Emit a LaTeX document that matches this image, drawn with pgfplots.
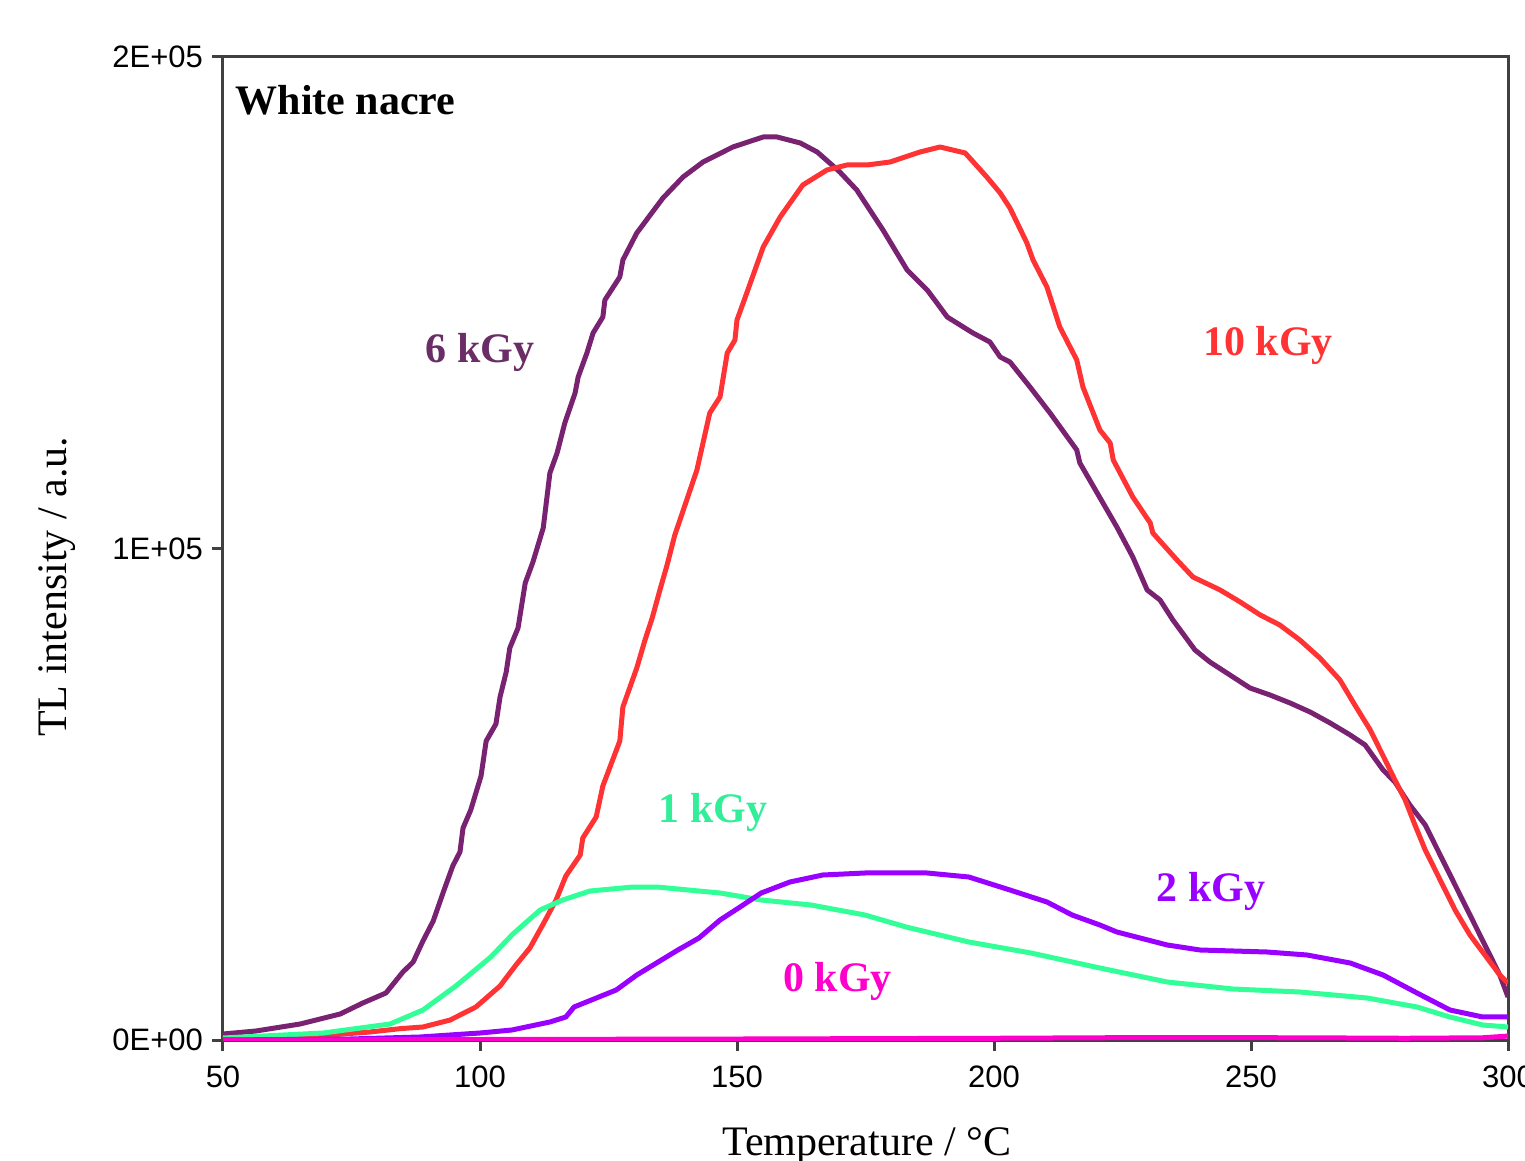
\documentclass[border=0pt]{standalone}
\usepackage{pgfplots}
\pgfplotsset{compat=1.18}
\usepackage{fontspec}
\setmainfont{Liberation Serif}
\newfontfamily\arial{Liberation Sans}
\definecolor{cSix}{HTML}{7A2272}
\definecolor{cSixL}{HTML}{6A2D66}
\definecolor{cTen}{HTML}{FF3333}
\definecolor{cOne}{HTML}{33FF99}
\definecolor{cOneL}{HTML}{33EE99}
\definecolor{cTwo}{HTML}{9900FF}
\definecolor{cZero}{HTML}{FF00CC}
\definecolor{frame}{HTML}{404040}
\begin{document}
\begin{tikzpicture}
\begin{axis}[
  at={(0,0)}, anchor=south west,
  scale only axis, width=642.5pt, height=491.5pt,
  xmin=50, xmax=300, ymin=0, ymax=200000,
  xtick={50,100,150,200,250,300},
  ytick={0,100000,200000},
  yticklabels={0E+00,1E+05,2E+05},
  scaled y ticks=false,
  /pgf/number format/assume math mode=true,
  tick align=outside, xtick pos=bottom, ytick pos=left,
  major tick length=5.5pt,
  axis line style={frame, line width=1.5pt},
  every tick/.style={frame, line width=1.5pt},
  ticklabel style={font=\arial\fontsize{15.5}{18}\selectfont, text=black},
  xticklabel style={yshift=-4pt},
  yticklabel style={xshift=-1pt},
  xlabel={Temperature / °C},
  ylabel={TL intensity / a.u.},
  every axis x label/.style={at={(axis description cs:0.501,-0.117)}, anchor=base, font=\fontsize{21}{25}\selectfont},
  every axis y label/.style={at={(axis description cs:-0.1292,0.461)}, anchor=center, rotate=90, font=\fontsize{21}{25}\selectfont},
  every axis plot/.append style={line width=2.5pt, line join=round},
]
% 6 kGy
\addplot[cSix] coordinates {
(50.0,1221) (56.4,1831) (65.0,3255) (72.8,5290) (77.2,7528) (81.7,9563) (85.0,13835) (87.0,15870) (88.9,20143) (90.9,24212) (92.8,29909) (94.7,35402) (96.1,38250) (96.7,43133) (98.2,46796) (100.2,53713) (101.2,60835) (103.1,64293) (103.9,69787) (105.1,74873) (105.8,79756) (107.4,83826) (108.8,92981) (110.3,97254) (112.3,104172) (113.6,115362) (115.0,119432) (116.5,125535) (118.5,131639) (119.1,134894) (120.8,139777) (122.0,143846) (123.9,147101) (124.3,150560) (127.2,155240) (127.8,158699) (130.5,164192) (135.6,171313) (139.5,175586) (143.4,178638) (149.2,181690) (155.1,183724) (157.8,183724) (162.3,182504) (165.6,180672) (168.7,177824) (170.0,176603) (173.3,172941) (178.4,164803) (181.1,160123) (183.1,156664) (187.0,152595) (188.9,149950) (190.9,147101) (195.9,143846) (199.2,142015) (201.2,138963) (203.1,137946) (207.0,132859) (210.9,127571) (216.1,120042) (216.7,117396) (221.2,109258) (223.9,104375) (227.0,98271) (229.8,91557) (232.3,89522) (234.8,85453) (239.1,79349) (242.0,76908) (245.9,74263) (249.8,71618) (253.7,70194) (257.6,68566) (261.5,66735) (265.4,64497) (269.3,62055) (272.2,60021) (275.7,54934) (278.0,52493) (280.9,47813) (283.9,43744) (286.8,37640) (289.7,31536) (292.6,25433) (295.5,19329) (298.4,13225) (300.0,8749)
};
% 10 kGy
\addplot[cTen] coordinates {
(50,0) (61.1,407) (70.8,1017) (78.6,1628) (84.4,2300) (88.9,2645) (94.2,4069) (99.2,6714) (103.9,10987) (107.0,15260) (109.7,18718) (112.3,23601) (114.8,28484) (116.7,33367) (119.5,37640) (120.0,41099) (122.6,45372) (123.9,51679) (127.2,60835) (127.8,67752) (130.5,75687) (132.1,81384) (133.5,85860) (135.0,91557) (136.4,96644) (137.9,102747) (138.9,105799) (142.2,115972) (144.7,127571) (146.7,130825) (148.1,139777) (149.6,142422) (150.0,146491) (151.9,151985) (155.1,161344) (158.4,167447) (162.8,173958) (167.5,177010) (171.4,178028) (175.3,178028) (179.8,178638) (182.7,179655) (185.6,180672) (189.5,181690) (194.4,180469) (198.6,175586) (201.2,172331) (203.1,169279) (206.4,162158) (207.6,158699) (210.3,153205) (212.8,145067) (216.1,138353) (217.3,132859) (220.6,124111) (222.6,121466) (223.2,118007) (227.0,110479) (230.4,105189) (230.9,103154) (235.6,97661) (238.7,94202) (244.0,91557) (247.9,89115) (251.8,86470) (255.6,84436) (259.5,81384) (263.4,77722) (267.3,73246) (270.2,68159) (273.2,63073) (276.1,56969) (278.0,52900) (280.0,48831) (281.9,43744) (283.9,38657) (286.8,32554) (289.7,26450) (292.6,21363) (295.5,17294) (298.4,13225) (300,11597)
};
% 1 kGy
\addplot[cOne] coordinates {
(50,407) (69.5,1424) (82.5,3255) (88.9,6104) (95.3,10987) (102.1,16887) (106.4,21567) (111.7,26450) (116.1,28484) (121.4,30316) (129.8,31129) (134.4,31129) (146.7,29909) (154.7,28484) (164.4,27467) (174.9,25433) (182.9,22991) (195.1,19939) (207.2,17701) (220.6,14649) (233.7,11801) (246.5,10376) (259.5,9766) (272.6,8545) (282.3,6714) (288.7,4680) (295.1,3052) (300,2645)
};
% 2 kGy
\addplot[cTwo] coordinates {
(50,0) (74.7,203) (88.3,610) (100,1424) (106.2,2035) (113.6,3662) (116.7,4680) (118.3,6714) (126.5,10173) (130.5,13225) (138.5,18311) (142.6,20753) (146.7,24415) (150.6,27060) (154.7,29909) (160.3,32147) (166.7,33571) (174.9,33978) (187.0,33978) (195.1,33164) (203.1,30519) (210.3,28077) (215.2,25433) (220.6,23398) (223.9,21974) (233.7,19329) (240.1,18311) (253.1,17905) (260.9,17294) (269.3,15666) (275.7,13225) (282.3,9563) (288.7,6104) (295.1,4680) (300,4680)
};
% 0 kGy
\addplot[cZero] coordinates {
(50,0) (100,100) (150,200) (200,350) (230,500) (260,450) (280,350) (295,450) (300,800)
};
\node[anchor=west, font=\bfseries\fontsize{21}{25}\selectfont] at (axis cs:51.1,191252) {White nacre};
\node[font=\bfseries\fontsize{21}{25}\selectfont, text=cSixL] at (axis cs:100.0,139800) {6 kGy};
\node[font=\bfseries\fontsize{21}{25}\selectfont, text=cTen] at (axis cs:253.3,141400) {10 kGy};
\node[font=\bfseries\fontsize{21}{25}\selectfont, text=cOneL] at (axis cs:145.3,46200) {1 kGy};
\node[font=\bfseries\fontsize{21}{25}\selectfont, text=cTwo] at (axis cs:242.2,30300) {2 kGy};
\node[font=\bfseries\fontsize{21}{25}\selectfont, text=cZero] at (axis cs:169.6,12000) {0 kGy};
\end{axis}
\pgfresetboundingbox
\path[use as bounding box] (-111.5pt,-60.5pt) rectangle (651pt,520pt);
\end{tikzpicture}
\end{document}
